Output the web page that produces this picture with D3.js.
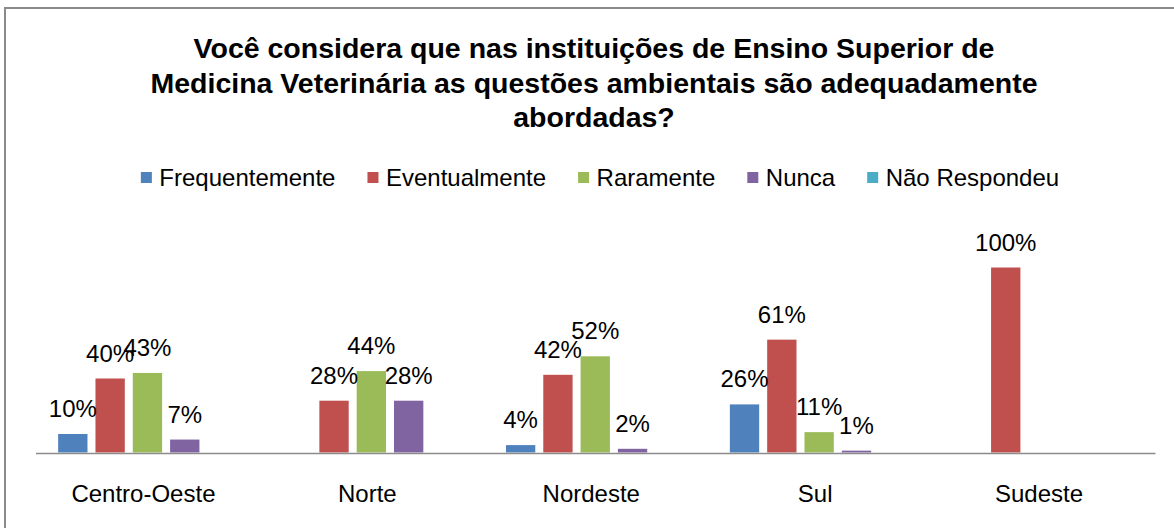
<!DOCTYPE html>
<html>
<head>
<meta charset="utf-8">
<script src="https://cdn.jsdelivr.net/npm/d3@7/dist/d3.min.js"></script>
<style>
  html, body { margin: 0; padding: 0; background: #fff; }
  svg { display: block; font-family: "Liberation Sans", Arial, sans-serif; }
</style>
</head>
<body>
<svg id="chart" width="1174" height="528"></svg>
<script>
const categories = ["Centro-Oeste", "Norte", "Nordeste", "Sul", "Sudeste"];
const seriesNames = ["Frequentemente", "Eventualmente", "Raramente", "Nunca", "Não Respondeu"];
const frequentemente = [10, 0, 4, 26, 0];
const eventualmente = [40, 28, 42, 61, 100];
const raramente = [43, 44, 52, 11, 0];
const nunca = [7, 28, 2, 1, 0];
const naoRespondeu = [0, 0, 0, 0, 0];
const seriesColors = ["#4F81BD", "#C0504D", "#9BBB59", "#8064A2", "#4BACC6"];
const titleLines = [
  "Você considera que nas instituições de Ensino Superior de",
  "Medicina Veterinária as questões ambientais são adequadamente",
  "abordadas?"
];

const seriesValues = [frequentemente, eventualmente, raramente, nunca, naoRespondeu];
const svg = d3.select("#chart");

// frame
svg.append("rect")
  .attr("x", 5).attr("y", 8).attr("width", 1300).attr("height", 700)
  .attr("fill", "#fff").attr("stroke", "#8a8a8a").attr("stroke-width", 2);

// title
const title = svg.append("text")
  .attr("text-anchor", "middle")
  .attr("font-size", 28.5).attr("font-weight", "bold").attr("fill", "#000");
titleLines.forEach((t, i) => {
  title.append("tspan").attr("x", 594).attr("y", 58 + i * 34.5).text(t);
});

// scales
const x0 = d3.scaleBand().domain(categories).range([35.5, 1155]).paddingInner(0).paddingOuter(0);
const x1 = d3.scaleBand().domain(seriesNames).range([0, x0.bandwidth()])
  .paddingInner(0.214).paddingOuter(0.607);
const y = d3.scaleLinear().domain([0, 100]).range([452.5, 267.5]);

// bars
const rows = [];
categories.forEach((c, ci) => {
  seriesNames.forEach((s, si) => {
    rows.push({ cat: c, ser: s, si: si, v: seriesValues[si][ci] });
  });
});
const plot = svg.append("g");
plot.selectAll("rect.bar").data(rows.filter(d => d.v > 0)).join("rect")
  .attr("class", "bar")
  .attr("x", d => x0(d.cat) + x1(d.ser))
  .attr("width", x1.bandwidth())
  .attr("y", d => y(d.v))
  .attr("height", d => y(0) - y(d.v))
  .attr("fill", d => seriesColors[d.si]);

// axis
const xAxis = d3.axisBottom(x0).tickSize(0).tickPadding(0);
const ax = svg.append("g").attr("transform", `translate(0,${y(0) + 0.5})`).call(xAxis);
ax.select(".domain").attr("stroke", "#8c8c8c").attr("stroke-width", 1.5);
ax.selectAll(".tick text")
  .attr("font-size", 24).attr("fill", "#000")
  .attr("font-family", "'Liberation Sans', Arial, sans-serif")
  .attr("dy", 0).attr("y", 48.5).attr("dx", -4);

// data labels
plot.selectAll("text.lbl").data(rows.filter(d => d.v > 0)).join("text")
  .attr("class", "lbl")
  .attr("text-anchor", "middle")
  .attr("font-size", 24).attr("fill", "#000")
  .attr("x", d => x0(d.cat) + x1(d.ser) + x1.bandwidth() / 2)
  .attr("y", d => y(d.v) - 17)
  .text(d => d.v + "%");

// legend
const legend = svg.append("g");
const items = legend.selectAll("g").data(seriesNames).join("g");
items.append("rect").attr("width", 11).attr("height", 11).attr("y", 172)
  .attr("fill", (d, i) => seriesColors[i]);
items.append("text").attr("font-size", 24).attr("fill", "#000")
  .attr("y", 186).attr("x", 18.5).text(d => d);
let widths = [];
items.each(function () {
  widths.push(18.5 + d3.select(this).select("text").node().getComputedTextLength());
});
const gap = 50.5 - 18.5;
const total = d3.sum(widths) + gap * (widths.length - 1);
let cx = 600 - total / 2;
items.attr("transform", (d, i) => {
  const t = `translate(${cx},0)`;
  cx += widths[i] + gap;
  return t;
});
</script>
</body>
</html>
